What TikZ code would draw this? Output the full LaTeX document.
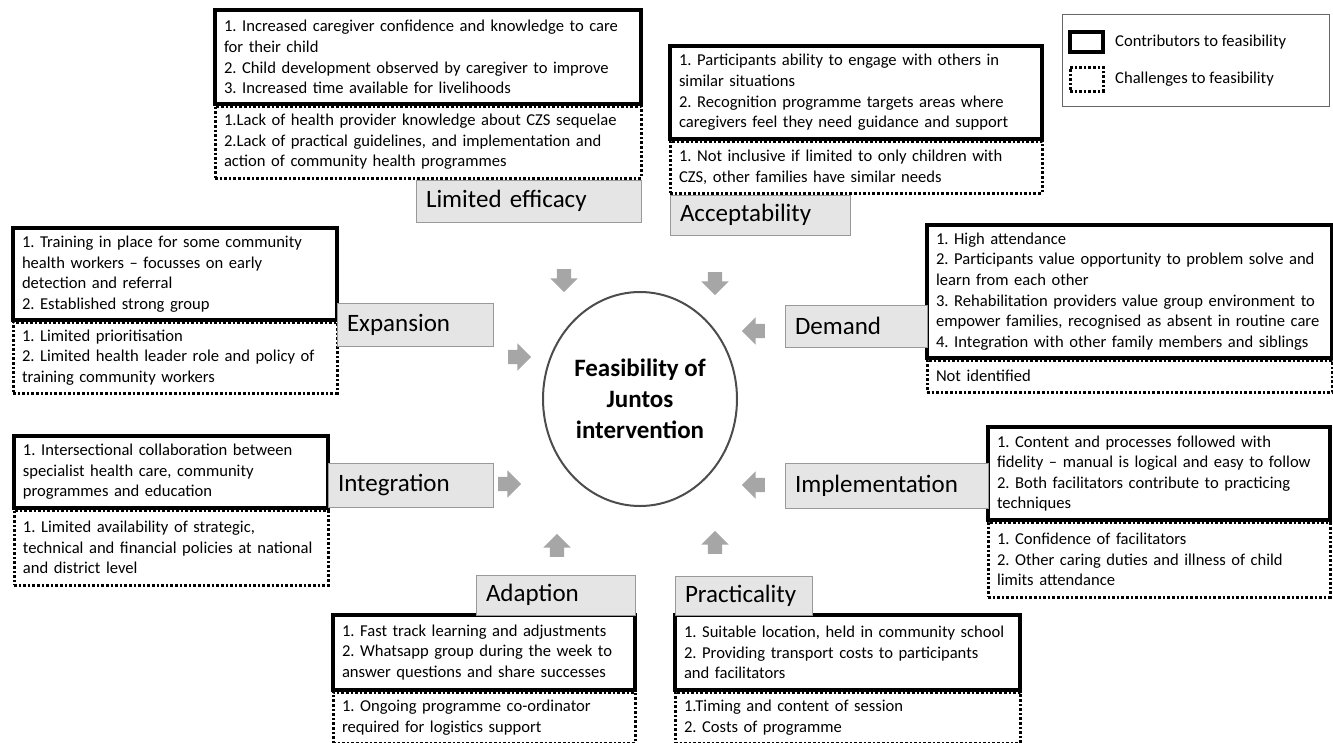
\documentclass[tikz,border=0pt]{standalone}
\usepackage{fontspec}
\setmainfont{Carlito}
\usetikzlibrary{positioning,shapes.geometric,shapes.arrows}
\frenchspacing
\hyphenpenalty=10000
\exhyphenpenalty=10000

\tikzset{
  contrib/.style 2 args={draw, line width=3.2pt, fill=white, align=left,
    anchor=north west, inner xsep=9pt, inner ysep=2pt, outer sep=0pt,
    text width=#1, minimum height=#2, font=\fontsize{16.6}{20.6}\selectfont},
  challenge/.style 2 args={contrib={#1}{#2}, line width=3pt,
    dash pattern=on 2.6pt off 2pt},
  factor/.style={draw=black!40, fill=black!10, line width=1pt, align=left,
    inner xsep=10pt, outer sep=0pt, text width=#1, minimum height=42pt,
    font=\fontsize{25}{30}\selectfont},
  flow/.style={single arrow, fill=black!35, draw=none, inner sep=7pt,
    minimum height=23pt, single arrow head extend=6.5pt,
    shape border rotate=#1},
  keytext/.style={right=10pt of #1, inner sep=2pt,
    font=\fontsize{16.6}{20.6}\selectfont}
}

\begin{document}
\begin{tikzpicture}[x=1pt, y=-1pt]
\useasboundingbox (0,0) rectangle (1333,742);

% centre
\node[ellipse, draw=black!70, line width=2pt, minimum width=194pt,
  minimum height=214pt, inner sep=0pt, align=center,
  font=\bfseries\fontsize{25}{31}\selectfont] (hub) at (640,399)
  {Feasibility of\\ Juntos\\ intervention};

% legend
\node[draw=black!60, line width=0.8pt, anchor=north west, minimum width=267pt,
  minimum height=92pt] (legend) at (1062,14) {};
\node[draw, line width=3.2pt, anchor=north west, minimum width=33pt,
  minimum height=20pt, inner sep=0pt, outer sep=0pt] (keyC) at (1070,32) {};
\node[draw, line width=3pt, dash pattern=on 2.6pt off 2pt, anchor=north west,
  minimum width=33pt, minimum height=24pt, inner sep=0pt, outer sep=0pt] (keyD) at (1070,67) {};
\node[keytext=keyC] {Contributors to feasibility};
\node[keytext=keyD] {Challenges to feasibility};

% limited efficacy
\node[contrib={408pt}{94pt}] (effC) at (215,10)
  {1. Increased caregiver confidence and knowledge to care\\ for their child\\
   2. Child development observed by caregiver to improve\\
   3. Increased time available for livelihoods};
\node[challenge={408pt}{72pt}, below=2pt of effC.south west, anchor=north west] (effD)
  {1.Lack of health provider knowledge about CZS sequelae\\
   2.Lack of practical guidelines, and implementation and\\
   action of community health programmes};
\node[factor=205pt, below left=2pt and 0pt of effD.south east] (effL) {Limited efficacy};

% acceptability
\node[contrib={354pt}{93pt}] (accC) at (670,46)
  {1. Participants ability to engage with others in\\ similar situations\\
   2. Recognition programme targets areas where\\
   caregivers feel they need guidance and support};
\node[challenge={354pt}{52pt}, below=2pt of accC.south west, anchor=north west] (accD)
  {1. Not inclusive if limited to only children with\\
   CZS, other families have similar needs};
\node[factor=160pt, minimum height=40pt, below right=2pt and 0pt of accD.south west] (accL) {Acceptability};

% expansion
\node[contrib={306pt}{92pt}] (expC) at (13,228)
  {1. Training in place for some community\\
   health workers -- focusses on early\\ detection and referral\\
   2. Established strong group};
\node[challenge={306pt}{71pt}, below=2pt of expC.south west, anchor=north west] (expD)
  {1. Limited prioritisation\\
   2. Limited health leader role and policy of\\ training community workers};
\node[factor=136pt, minimum height=43pt, anchor=north west] (expL) at (337,303) {Expansion};

% demand
\node[contrib={387pt}{133pt}] (demC) at (927,225)
  {1. High attendance\\
   2. Participants value opportunity to problem solve and\\ learn from each other\\
   3. Rehabilitation providers value group environment to\\
   empower families, recognised as absent in routine care\\
   4. Integration with other family members and siblings};
\node[challenge={387pt}{32pt}, below=2pt of demC.south west, anchor=north west] (demD)
  {Not identified};
\node[factor=122pt, anchor=north east] (demL) at (927,305) {Demand};

% integration
\node[contrib={296pt}{72pt}] (intC) at (14,436)
  {1. Intersectional collaboration between\\
   specialist health care, community\\ programmes and education};
\node[challenge={296pt}{75pt}, below=2pt of intC.south west, anchor=north west] (intD)
  {1. Limited availability of strategic,\\
   technical and financial policies at national\\ and district level};
\node[factor=145pt, minimum height=44pt, anchor=north west] (intL) at (328,463) {Integration};

% implementation
\node[contrib={324pt}{93pt}] (impC) at (988,427)
  {1. Content and processes followed with\\
   fidelity -- manual is logical and easy to follow\\
   2. Both facilitators contribute to practicing\\ techniques};
\node[challenge={324pt}{75pt}, below=2pt of impC.south west, anchor=north west] (impD)
  {1. Confidence of facilitators\\
   2. Other caring duties and illness of child\\ limits attendance};
\node[factor=183pt, minimum height=45pt, anchor=north east] (impL) at (988,463) {Implementation};

% adaption
\node[contrib={284pt}{75pt}] (adaC) at (333,615)
  {1. Fast track learning and adjustments\\
   2. Whatsapp group during the week to\\
   answer questions and share successes};
\node[challenge={284pt}{51pt}, below=2pt of adaC.south west, anchor=north west] (adaD)
  {1. Ongoing programme co-ordinator\\ required for logistics support};
\node[factor=139pt, minimum height=40pt, above left=0pt and 0pt of adaC.north east] (adaL) {Adaption};

% practicality
\node[contrib={327pt}{75pt}] (praC) at (675,615)
  {1. Suitable location, held in community school\\
   2. Providing transport costs to participants\\ and facilitators};
\node[challenge={327pt}{51pt}, below=2pt of praC.south west, anchor=north west] (praD)
  {1.Timing and content of session\\ 2. Costs of programme};
\node[factor=117pt, minimum height=39pt, above right=0pt and 0pt of praC.north west] (praL) {Practicality};

% arrows into the centre
\node[flow=270] (effA) at (564,277) {};
\node[flow=270] (accA) at (715,280) {};
\node[flow=180] (demA) at (757,331) {};
\node[flow=0]   (expA) at (516,357) {};
\node[flow=0]   (intA) at (506,484) {};
\node[flow=180] (impA) at (757,485) {};
\node[flow=90]  (adaA) at (557,549) {};
\node[flow=90]  (praA) at (715,546) {};
\end{tikzpicture}
\end{document}
